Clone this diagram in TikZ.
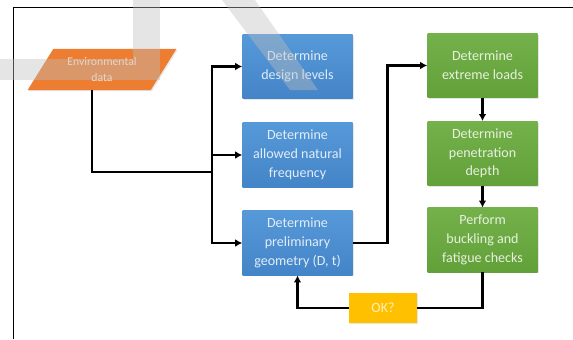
\documentclass[tikz,border=0pt]{standalone}
\usepackage{fontspec}
\setmainfont{Carlito}
\usetikzlibrary{shapes.geometric,arrows.meta,calc,shadows}
\definecolor{blueT}{RGB}{86,153,216}
\definecolor{blueB}{RGB}{68,132,200}
\definecolor{greenT}{RGB}{116,177,74}
\definecolor{greenB}{RGB}{98,160,58}
\definecolor{envorange}{RGB}{237,125,49}
\definecolor{okgold}{RGB}{255,192,0}

\begin{document}
\begin{tikzpicture}[x=0.03cm, y=-0.03cm,
    box/.style={rectangle, minimum width=3.3cm, minimum height=1.93cm, align=center,
                font=\fontsize{12}{16}\selectfont,
                drop shadow={opacity=0.2, shadow xshift=1pt, shadow yshift=-1pt}},
    bluebox/.style={box, top color=blueT, bottom color=blueB, text=white!82!blueT},
    greenbox/.style={box, top color=greenT, bottom color=greenB, text=white!82!greenT},
    flow/.style={line width=2.3pt, -{Latex[length=6pt,width=6.5pt]}},
    plain/.style={line width=2.3pt}]
  \useasboundingbox (0,0) rectangle (573,339);

  % frame
  \draw[line width=0.8pt] (13,339) -- (13,7) -- (573,7);

  % input
  \node[trapezium, trapezium left angle=57.6, trapezium right angle=122.4,
        trapezium stretches=true, minimum width=4.5cm, minimum height=1.23cm,
        fill=envorange, text=white!80!envorange, align=center,
        font=\fontsize{10}{13.5}\selectfont,
        drop shadow={opacity=0.2, shadow xshift=1pt, shadow yshift=-1pt}]
        (env) at (102,69.5) {Environmental\\data};

  % design steps
  \node[bluebox] (dl) at (297.5,66.5) {Determine\\design levels};
  \node[bluebox] (nf) at (297.5,155) {Determine\\allowed natural\\frequency};
  \node[bluebox] (pg) at (297.5,243) {Determine\\preliminary\\geometry (D, t)};

  \node[greenbox] (el) at (482.5,65.5) {Determine\\extreme loads};
  \node[greenbox] (pd) at (482.5,153.5) {Determine\\penetration\\depth};
  \node[greenbox] (bf) at (482.5,240) {Perform\\buckling and\\fatigue checks};

  \node[rectangle, fill=okgold, minimum width=2.04cm, minimum height=0.9cm,
        text=white!75!okgold, font=\fontsize{12}{14}\selectfont,
        drop shadow={opacity=0.2, shadow xshift=1pt, shadow yshift=-1pt}]
        (ok) at (383,308) {OK?};

  % connectors
  \coordinate (split) at (212,172);
  \draw[plain] ($(env.south)+(-10,0)$) |- (split);
  \draw[flow] (split) |- (dl.west);
  \draw[flow] (split) |- (nf.west);
  \draw[flow] (split) |- (pg.west);
  \draw[flow] (pg.east) -- ++(35,0) |- (el.west);
  \draw[flow] (el) -- (pd);
  \draw[flow] (pd) -- (bf);
  \draw[plain] (bf.south) |- (ok.east);
  \draw[flow] (ok.west) -| (pg.south);

  % watermark
  \fill[black!25, opacity=0.4] (133,0) rectangle (160,80);
  \fill[black!25, opacity=0.4] (0,59) rectangle (133,80);
  \fill[black!25, opacity=0.4] (222,0) -- (255,0) -- (318,90) -- (290,90) -- cycle;
\end{tikzpicture}
\end{document}
